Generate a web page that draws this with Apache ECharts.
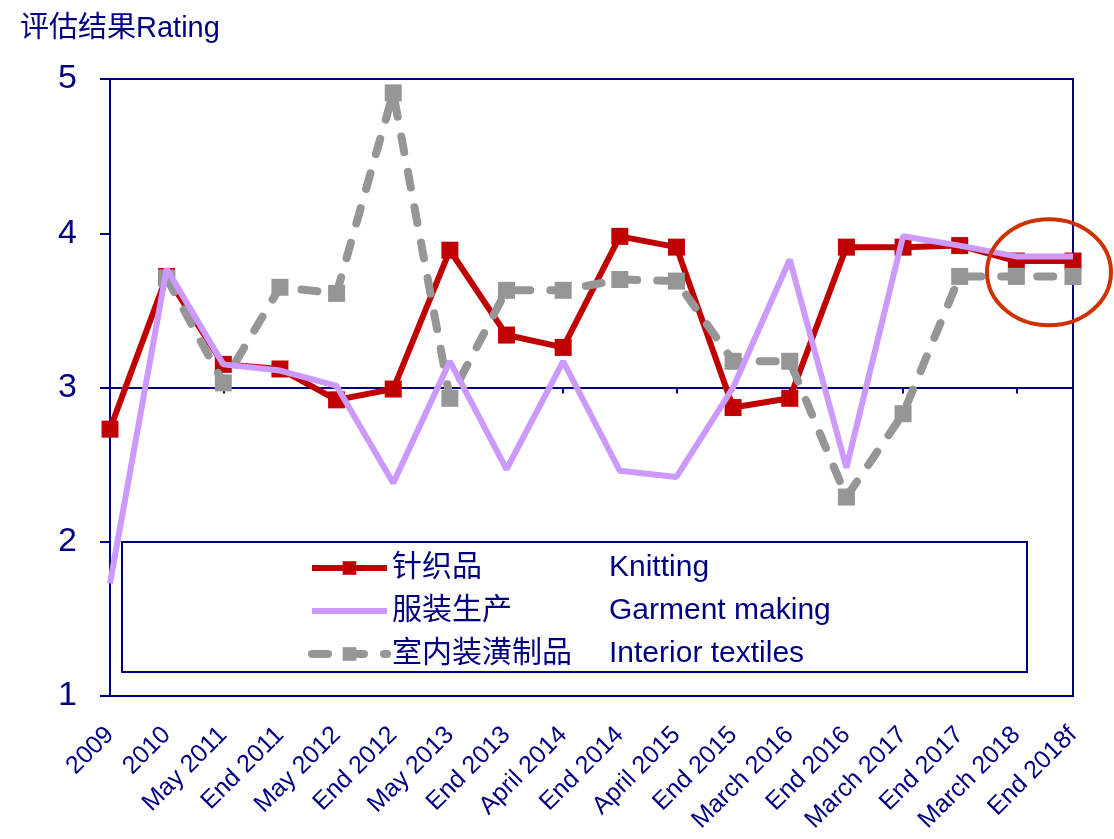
<!DOCTYPE html>
<html>
<head>
<meta charset="utf-8">
<script src="https://cdn.jsdelivr.net/npm/echarts@6/dist/echarts.min.js"></script>
<style>
  html, body { margin: 0; padding: 0; background: #fff; }
  #chart { width: 1114px; height: 839px; }
</style>
</head>
<body>
<div id="chart"></div>
<script>
const categories = ['2009', '2010', 'May 2011', 'End 2011', 'May 2012', 'End 2012', 'May 2013', 'End 2013',
  'April 2014', 'End 2014', 'April 2015', 'End 2015', 'March 2016', 'End 2016', 'March 2017', 'End 2017',
  'March 2018', 'End 2018f']
const knitting = [2.73, 3.72, 3.15, 3.12, 2.92, 2.99, 3.89, 3.34, 3.26, 3.98, 3.91, 2.87, 2.93, 3.91, 3.91, 3.92, 3.82, 3.82]
const garment = [1.73, 3.77, 3.15, 3.11, 3.01, 2.38, 3.17, 2.47, 3.17, 2.46, 2.42, 3.0, 3.83, 2.48, 3.98, 3.92, 3.85, 3.85]
const interior = ['-', 3.71, 3.03, 3.65, 3.61, 4.91, 2.93, 3.63, 3.63, 3.70, 3.69, 3.17, 3.17, 2.29, 2.83, 3.72, 3.72, 3.72]
const names = {
  k: ['针织品', 'Knitting'],
  g: ['服装生产', 'Garment making'],
  i: ['室内装潢制品', 'Interior textiles']
}

const navy = '#000080'
const font = '"Liberation Sans", Arial, "Noto Sans CJK SC", sans-serif'
const chart = echarts.init(document.getElementById('chart'))

const legendBox = {
  type: 'rect', z: 1,
  shape: { x: 122, y: 542, width: 905, height: 130 },
  style: { fill: '#fff', stroke: navy, lineWidth: 2 }
}

chart.setOption({
  animation: false,
  textStyle: { fontFamily: font },
  title: {
    text: '评估结果Rating',
    left: 15, top: 9,
    textStyle: { color: navy, fontSize: 29, fontWeight: 'normal', fontFamily: font }
  },
  grid: {
    left: 110, right: 41, top: 79, bottom: 143,
    show: true, borderColor: navy, borderWidth: 2, backgroundColor: 'transparent'
  },
  legend: {
    orient: 'vertical',
    left: 303, top: 548,
    itemWidth: 75, itemHeight: 17, itemGap: 13,
    lineStyle: { width: 'inherit' },
    data: [
      { name: names.k.join('') },
      { name: names.g.join(''), itemStyle: { opacity: 0 } },
      { name: names.i.join('') }
    ],
    formatter: function (n) {
      const pair = [names.k, names.g, names.i].find(p => p.join('') === n)
      return '{cn|' + pair[0] + '}{en|' + pair[1] + '}'
    },
    textStyle: {
      rich: {
        cn: { width: 217, fontSize: 30, lineHeight: 30, color: navy, fontFamily: font },
        en: { fontSize: 30, lineHeight: 30, color: navy, fontFamily: font }
      }
    },
    z: 10
  },
  xAxis: [
    {
      type: 'category', data: categories, boundaryGap: false,
      axisLine: { show: false }, axisTick: { show: false },
      axisLabel: { rotate: 45, fontSize: 25, color: navy, margin: 35, interval: 0, fontFamily: font }
    },
    {
      type: 'category', data: categories, boundaryGap: false, position: 'bottom', offset: -308.5,
      axisLine: { lineStyle: { color: navy, width: 2 } },
      axisTick: { show: true, length: 6, lineStyle: { color: navy, width: 2 } },
      axisLabel: { show: false }
    }
  ],
  yAxis: {
    type: 'value', min: 1, max: 5, interval: 1,
    splitLine: { show: false },
    axisLine: { show: true, lineStyle: { color: navy, width: 2 } },
    axisTick: { show: true, length: 10, lineStyle: { color: navy, width: 2 } },
    axisLabel: { fontSize: 34, color: navy, margin: 33, fontFamily: font }
  },
  graphic: [legendBox],
  series: [
    {
      name: names.k.join(''), type: 'line', data: knitting, z: 3,
      symbol: 'rect', symbolSize: 17, showSymbol: true,
      itemStyle: { color: '#C00000' },
      lineStyle: { color: '#C00000', width: 6 }
    },
    {
      name: names.i.join(''), type: 'line', data: interior, z: 4,
      symbol: 'rect', symbolSize: 17,
      itemStyle: { color: '#969696' },
      lineStyle: { color: '#969696', width: 8, type: [16, 20], cap: 'round' }
    },
    {
      name: names.g.join(''), type: 'line', data: garment, z: 5,
      symbol: 'none',
      itemStyle: { color: '#CC99FF' },
      lineStyle: { color: '#CC99FF', width: 6 }
    }
  ]
})

// highlight ellipse around the last two forecast points
const c = chart.convertToPixel({ xAxisIndex: 0, yAxisIndex: 0 }, ['End 2018f', 3.76])
chart.setOption({
  graphic: [
    legendBox,
    {
      type: 'ellipse', z: 20,
      shape: { cx: c[0] - 24, cy: c[1] + 2, rx: 62, ry: 53 },
      style: { fill: 'none', stroke: '#CC3300', lineWidth: 4 }
    }
  ]
})
</script>
</body>
</html>
